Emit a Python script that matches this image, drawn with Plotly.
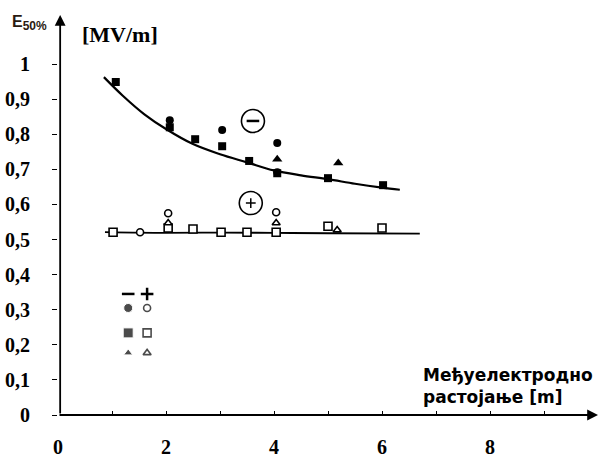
import plotly.graph_objects as go

# negative polarity (filled markers)
neg_sq_x = [1.07, 2.07, 2.54, 3.04, 3.54, 4.06, 5.0, 6.02]
neg_sq_y = [0.949, 0.82, 0.786, 0.766, 0.724, 0.689, 0.675, 0.655]
neg_ci_x = [2.07, 3.04, 4.06, 4.06]
neg_ci_y = [0.84, 0.812, 0.775, 0.692]
neg_tr_x = [4.06, 5.19]
neg_tr_y = [0.729, 0.718]
neg_fit_x = [0.85, 1.2, 1.6, 2.0, 2.5, 3.0, 3.5, 4.0, 4.5, 5.0, 5.5, 6.0, 6.33]
neg_fit_y = [0.963, 0.91, 0.857, 0.815, 0.772, 0.743, 0.72, 0.697, 0.683, 0.672, 0.659, 0.648, 0.642]

# positive polarity (open markers)
pos_sq_x = [1.02, 2.04, 2.5, 3.02, 3.5, 4.04, 5.0, 6.0]
pos_sq_y = [0.521, 0.533, 0.53, 0.521, 0.521, 0.521, 0.538, 0.533]
pos_ci_x = [1.52, 2.04, 4.04]
pos_ci_y = [0.521, 0.575, 0.578]
pos_tr_x = [2.04, 4.04, 5.17]
pos_tr_y = [0.547, 0.547, 0.527]
pos_fit_x = [0.87, 2.0, 3.0, 4.0, 5.0, 6.7]
pos_fit_y = [0.521, 0.519, 0.52, 0.519, 0.518, 0.517]

xtick_vals = [0, 1, 2, 3, 4, 5, 6, 7, 8, 9]
xlabel_vals = [0, 2, 4, 6, 8]
xlabel_text = ['0', '2', '4', '6', '8']
ytick_vals = [0, 0.1, 0.2, 0.3, 0.4, 0.5, 0.6, 0.7, 0.8, 0.9, 1.0]
ytick_text = ['0', '0,1', '0,2', '0,3', '0,4', '0,5', '0,6', '0,7', '0,8', '0,9', '1']

# legend block
leg_col_x = [1.3, 1.65]
leg_row_y = [0.345, 0.305, 0.234, 0.177]

k = 'black'
fig = go.Figure()

fig.add_trace(go.Scatter(x=neg_fit_x, y=neg_fit_y, mode='lines', line=dict(color=k, width=2.2, shape='spline')))
fig.add_trace(go.Scatter(x=pos_fit_x, y=pos_fit_y, mode='lines', line=dict(color=k, width=1.8, shape='spline')))

fig.add_trace(go.Scatter(x=neg_sq_x, y=neg_sq_y, mode='markers', marker=dict(symbol='square', size=8, color=k)))
fig.add_trace(go.Scatter(x=neg_ci_x, y=neg_ci_y, mode='markers', marker=dict(symbol='circle', size=8, color=k)))
fig.add_trace(go.Scatter(x=neg_tr_x, y=neg_tr_y, mode='markers', marker=dict(symbol='triangle-up', size=9, color=k)))

openm = dict(color='white', line=dict(color=k, width=1.6))
fig.add_trace(go.Scatter(x=pos_sq_x, y=pos_sq_y, mode='markers', marker=dict(symbol='square', size=8, **openm)))
fig.add_trace(go.Scatter(x=pos_ci_x, y=pos_ci_y, mode='markers', marker=dict(symbol='circle', size=7, **openm)))
fig.add_trace(go.Scatter(x=pos_tr_x, y=pos_tr_y, mode='markers', marker=dict(symbol='triangle-up', size=7, **openm)))

# circled polarity signs
fig.add_trace(go.Scatter(x=[3.61, 3.57], y=[0.838, 0.604], mode='markers',
                         marker=dict(symbol='circle-open', size=23, color=k, line=dict(width=1.6))))
fig.add_trace(go.Scatter(x=[3.61], y=[0.838], mode='markers',
                         marker=dict(symbol='line-ew', size=9, line=dict(color=k, width=2.5))))
fig.add_trace(go.Scatter(x=[3.57], y=[0.604], mode='markers',
                         marker=dict(symbol='cross-thin', size=7, line=dict(color=k, width=1.5))))

# legend
fig.add_trace(go.Scatter(x=[leg_col_x[0]], y=[leg_row_y[0]], mode='markers',
                         marker=dict(symbol='line-ew', size=9, line=dict(color=k, width=2.5))))
fig.add_trace(go.Scatter(x=[leg_col_x[1]], y=[leg_row_y[0]], mode='markers',
                         marker=dict(symbol='cross-thin', size=9, line=dict(color=k, width=2.5))))
fig.add_trace(go.Scatter(x=[leg_col_x[0]] * 3, y=leg_row_y[1:], mode='markers',
                         marker=dict(symbol=['circle', 'square', 'triangle-up'], size=[9, 10, 8], color=k)))
fig.add_trace(go.Scatter(x=[leg_col_x[1]] * 3, y=leg_row_y[1:], mode='markers',
                         marker=dict(symbol=['circle', 'square', 'triangle-up'], size=[7, 8, 7], **openm)))

fig.update_layout(
    width=600, height=457,
    margin=dict(l=58, r=2, t=15, b=42, autoexpand=False),
    paper_bgcolor='white', plot_bgcolor='white',
    showlegend=False,
    xaxis=dict(range=[0, 10.0], tickmode='array', tickvals=xtick_vals, showticklabels=False,
               ticks='inside', ticklen=4, tickcolor=k, showgrid=False,
               zeroline=False, showline=False, automargin=False),
    yaxis=dict(range=[0, 1.14], tickmode='array', tickvals=ytick_vals, showticklabels=False,
               ticks='outside', ticklen=5, tickcolor=k, showgrid=False,
               zeroline=False, showline=False, automargin=False),
)

# tick labels in bold serif
tfont = dict(family='Liberation Serif', size=20, color=k, weight='bold')
for v, t in zip(ytick_vals, ytick_text):
    fig.add_annotation(x=-0.048, y=v, xref='paper', yref='y', xanchor='right', yanchor='middle',
                       text=t, showarrow=False, font=tfont)
for v, t in zip(xlabel_vals, xlabel_text):
    fig.add_annotation(x=v, y=-0.08, xref='x', yref='paper', xanchor='center', yanchor='middle',
                       text=t, showarrow=False, font=tfont)

# axes drawn as arrows
fig.add_annotation(x=10.0, y=0, ax=0, ay=0, xref='x', yref='y', axref='x', ayref='y', text='',
                   showarrow=True, arrowhead=2, arrowsize=1.2, arrowwidth=1.8, arrowcolor=k)
fig.add_annotation(x=0.04, y=1.14, ax=0.04, ay=0, xref='x', yref='y', axref='x', ayref='y', text='',
                   showarrow=True, arrowhead=2, arrowsize=1.2, arrowwidth=1.8, arrowcolor=k)

fig.add_annotation(x=-0.089, y=0.98, xref='paper', yref='paper', xanchor='left', yanchor='middle',
                   text='E<sub><span style="font-size:12px">50%</span></sub>', showarrow=False,
                   font=dict(family='Liberation Sans', size=16, color='#2a1a10', weight='bold'))
fig.add_annotation(x=0.041, y=0.952, xref='paper', yref='paper', xanchor='left', yanchor='middle',
                   text='[MV/m]', showarrow=False,
                   font=dict(family='Liberation Serif', size=22, color=k, weight='bold'))
fig.add_annotation(x=0.672, y=0.0725, xref='paper', yref='paper', xanchor='left', yanchor='middle', align='left',
                   text='Међуелектродно<br>растојање [m]', showarrow=False,
                   font=dict(family='DejaVu Sans', size=17, color=k, weight='bold'))

fig.write_html("out.html", post_script="document.body.style.margin='0';",
               config={'displayModeBar': False})
